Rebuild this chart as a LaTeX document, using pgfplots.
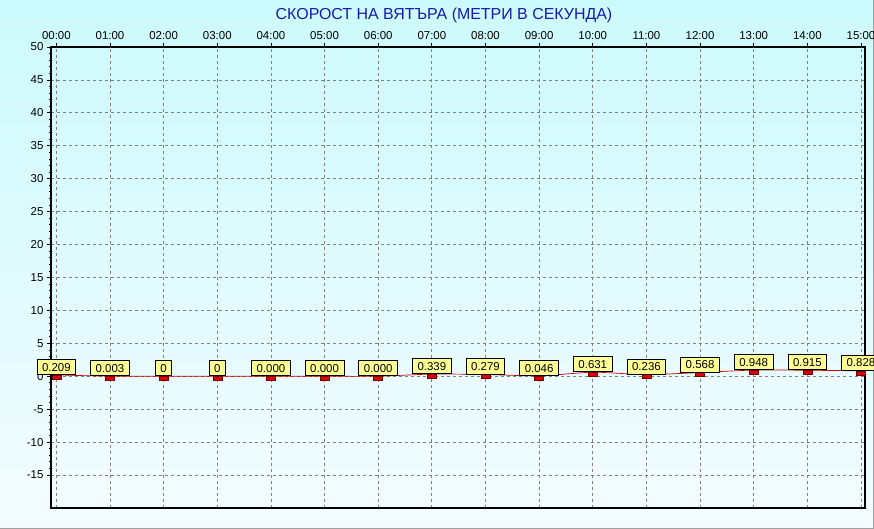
\documentclass[border=0pt]{standalone}
\usepackage{fontspec}
\setmainfont{Liberation Sans}
\usepackage{pgfplots}
\pgfplotsset{compat=1.18}
\definecolor{bgtop}{RGB}{204,250,252}
\definecolor{bgbot}{RGB}{244,252,255}
\definecolor{titleblue}{RGB}{25,25,175}
\definecolor{linered}{RGB}{200,0,0}
\definecolor{markred}{RGB}{220,0,0}
\definecolor{lblyellow}{RGB}{255,255,150}
\definecolor{gridgray}{RGB}{128,128,128}
\pgfdeclareplotmark{redbar}{\pgfpathrectangle{\pgfpoint{-4.5bp}{-4bp}}{\pgfpoint{9bp}{4bp}}\pgfusepathqfillstroke}
\pgfplotstableread{
x y lbl
0 0.209 0.209
1 0.003 0.003
2 0 0
3 0 0
4 0.000 0.000
5 0.000 0.000
6 0.000 0.000
7 0.339 0.339
8 0.279 0.279
9 0.046 0.046
10 0.631 0.631
11 0.236 0.236
12 0.568 0.568
13 0.948 0.948
14 0.915 0.915
15 0.828 0.828
}\windtable
\begin{document}
\begin{tikzpicture}[x=1bp,y=1bp]
\shade[top color=bgtop,bottom color=bgbot] (0,0) rectangle (874,529);
\draw[gray!75,line width=1bp] (873.5,0) -- (873.5,529);
\draw[gray!75,line width=1bp] (0,0.5) -- (874,0.5);
\node[font=\fontsize{16}{18}\selectfont, text=titleblue] at (444,514) {СКОРОСТ НА ВЯТЪРА (МЕТРИ В СЕКУНДА)};
\begin{axis}[at={(51bp,21bp)}, anchor=south west, scale only axis,
  width=814bp, height=461bp,
  xmin=-0.1, xmax=15.075, ymin=-20, ymax=50,
  xtick={0,...,15},
  xticklabels={00:00,01:00,02:00,03:00,04:00,05:00,06:00,07:00,08:00,09:00,10:00,11:00,12:00,13:00,14:00,15:00},
  xticklabel pos=upper,
  xtick pos=upper,
  ytick pos=left,
  ytick={-15,-10,...,50},
  minor y tick num=4,
  tick align=outside,
  major tick length=4bp,
  minor tick length=2bp,
  tick style={black, line width=0.8bp},
  ticklabel style={font=\fontsize{11.5}{13}\selectfont},
  /pgf/number format/assume math mode=true,
  grid=major,
  major grid style={gridgray, line width=0.8bp, dash pattern=on 3bp off 3bp},
  axis line style={black, line width=1.2bp},
  clip=false,
]
\draw[black, line width=2.2bp] (rel axis cs:0,0) -- (rel axis cs:0,1);
\addplot[linered, line width=0.7bp, smooth, tension=0.3,
  mark=redbar, mark options={solid, fill=markred, draw=red!45!black, line width=0.5bp},
  nodes near coords, point meta=explicit symbolic,
  every node near coord/.style={anchor=south, fill=lblyellow, draw=black, line width=0.8bp,
     inner xsep=5bp, inner ysep=3.5bp, text height=8.2bp, text depth=0bp,
     font=\fontsize{11.5}{13}\selectfont, text=black}]
  table[x=x, y=y, meta=lbl] {\windtable};
\end{axis}
\pgfresetboundingbox
\useasboundingbox (0,0) rectangle (874,529);
\end{tikzpicture}
\end{document}
